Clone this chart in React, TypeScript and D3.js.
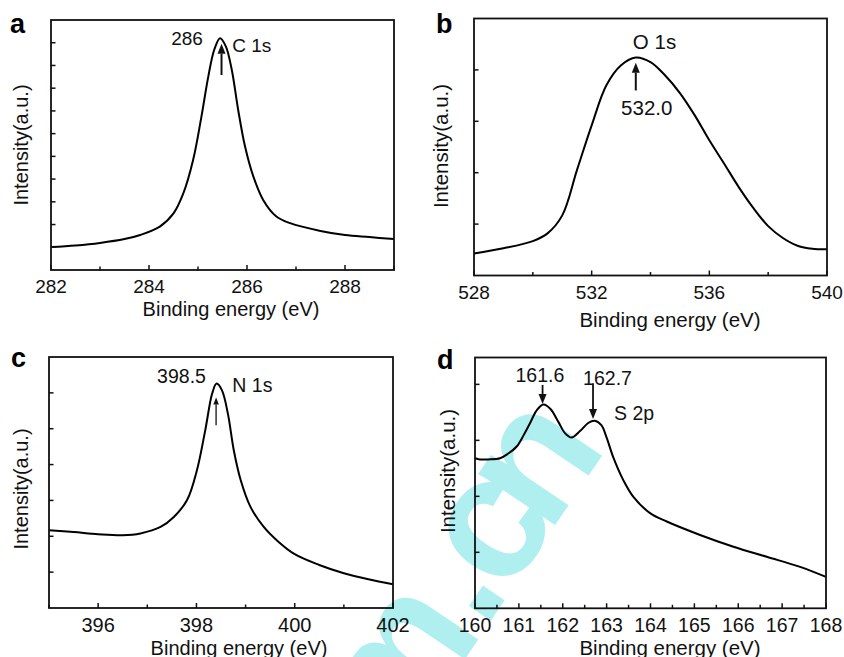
import React from "react";
import * as d3 from "d3";

// XPS spectra (intensity in arbitrary units)
const c1sEnergy = [282, 282.5, 283, 283.5, 283.82, 284.22, 284.5, 284.7, 284.9, 285.07, 285.21, 285.33, 285.45, 285.57, 285.69, 285.82, 285.96, 286.13, 286.33, 286.6, 286.88, 287.5, 288, 288.5, 289];
const c1sIntensity = [1.01, 1.08, 1.19, 1.36, 1.54, 1.91, 2.49, 3.37, 4.84, 6.75, 8.51, 9.68, 10.2, 9.83, 8.8, 7.04, 5.43, 4.11, 3.08, 2.35, 2.06, 1.72, 1.54, 1.45, 1.36];

const o1sEnergy = [528, 529, 530, 530.5, 531, 531.5, 532, 532.5, 533, 533.5, 534, 534.5, 535, 535.5, 536, 536.5, 537, 537.5, 538, 538.5, 539, 539.5, 540];
const o1sIntensity = [0.43, 0.53, 0.67, 0.82, 1.17, 2.05, 2.92, 3.7, 4.09, 4.24, 4.15, 3.89, 3.55, 3.12, 2.63, 2.18, 1.72, 1.31, 0.96, 0.73, 0.58, 0.52, 0.51];

const n1sEnergy = [395, 395.5, 396, 396.5, 396.86, 397.27, 397.54, 397.81, 398.01, 398.18, 398.32, 398.41, 398.52, 398.64, 398.76, 398.9, 399.1, 399.37, 399.65, 400, 400.5, 401, 401.5, 402];
const n1sIntensity = [2.17, 2.12, 2.06, 2.03, 2.08, 2.26, 2.54, 3.01, 3.84, 4.96, 5.98, 6.26, 6.07, 5.42, 4.4, 3.57, 2.82, 2.26, 1.87, 1.5, 1.2, 0.97, 0.8, 0.66];

const s2pEnergy = [160, 160.11, 160.3, 160.57, 160.75, 160.95, 161.1, 161.25, 161.41, 161.56, 161.72, 161.9, 162.05, 162.2, 162.4, 162.58, 162.73, 162.88, 163, 163.15, 163.38, 163.61, 163.99, 164.37, 165.13, 165.89, 166.65, 167.41, 168];
const s2pIntensity = [2.68, 2.66, 2.66, 2.68, 2.76, 2.89, 3.08, 3.3, 3.54, 3.64, 3.56, 3.33, 3.13, 3.05, 3.17, 3.31, 3.35, 3.27, 3.05, 2.7, 2.29, 1.99, 1.7, 1.55, 1.31, 1.1, 0.92, 0.74, 0.56];

// axis ticks
const aXTicks = [282, 283, 284, 285, 286, 287, 288, 289];
const aXLabels = [282, 284, 286, 288];
const aYTicks = [1, 2, 3, 4, 5, 6, 7, 8, 9, 10];
const bXTicks = [528, 530, 532, 534, 536, 538, 540];
const bXLabels = [528, 532, 536, 540];
const bYTicks = [1, 2, 3, 4];
const cXTicks = [395, 396, 397, 398, 399, 400, 401, 402];
const cXLabels = [396, 398, 400, 402];
const cYTicks = [1, 2, 3, 4, 5, 6];
const dXTicks = d3.range(160, 168.01, 0.5);
const dXLabels = [160, 161, 162, 163, 164, 165, 166, 167, 168];
const dYTicks = [1, 2, 3, 4];

type Arrow = { x: number; y0: number; y1: number; w: number };
type Note = { text: string; x: number; y: number; anchor: string };

type PanelCfg = {
  letter: string;
  box: { l: number; t: number; r: number; b: number };
  xDomain: [number, number];
  yDomain: [number, number];
  xTicks: number[];
  xLabels: number[];
  yTicks: number[];
  energy: number[];
  intensity: number[];
  arrows: Arrow[];
  notes: Note[];
  tickFont: number;
  noteFont: number;
  titleFont: number;
  xTitle: { x: number; y: number };
  yTitle: { x: number; y: number };
  letterPos: { x: number; y: number };
  tickBaseline: number;
};

const panels: PanelCfg[] = [
  {
    letter: "a",
    box: { l: 51, t: 20, r: 394, b: 270 },
    xDomain: [282, 289], yDomain: [0, 11],
    xTicks: aXTicks, xLabels: aXLabels, yTicks: aYTicks,
    energy: c1sEnergy, intensity: c1sIntensity,
    arrows: [{ x: 285.48, y0: 8.58, y1: 9.95, w: 2 }],
    notes: [
      { text: "286", x: 285.1, y: 9.92, anchor: "end" },
      { text: "C 1s", x: 285.7, y: 9.59, anchor: "start" },
    ],
    tickFont: 19, noteFont: 19, titleFont: 20,
    xTitle: { x: 231, y: 316 }, yTitle: { x: 28, y: 145 },
    letterPos: { x: 10, y: 33 }, tickBaseline: 292.5,
  },
  {
    letter: "b",
    box: { l: 474, t: 18.5, r: 827, b: 275.5 },
    xDomain: [528, 540], yDomain: [0, 5],
    xTicks: bXTicks, xLabels: bXLabels, yTicks: bYTicks,
    energy: o1sEnergy, intensity: o1sIntensity,
    arrows: [{ x: 533.5, y0: 3.6, y1: 4.14, w: 2 }],
    notes: [
      { text: "O 1s", x: 533.4, y: 4.4, anchor: "start" },
      { text: "532.0", x: 533.0, y: 3.12, anchor: "start" },
    ],
    tickFont: 19, noteFont: 20.5, titleFont: 20.5,
    xTitle: { x: 670, y: 327 }, yTitle: { x: 448, y: 146 },
    letterPos: { x: 436, y: 33 }, tickBaseline: 298.5,
  },
  {
    letter: "c",
    box: { l: 49, t: 357, r: 393, b: 608 },
    xDomain: [395, 402], yDomain: [0, 7],
    xTicks: cXTicks, xLabels: cXLabels, yTicks: cYTicks,
    energy: n1sEnergy, intensity: n1sIntensity,
    arrows: [{ x: 398.4, y0: 5.1, y1: 5.87, w: 1.3 }],
    notes: [
      { text: "398.5", x: 397.2, y: 6.27, anchor: "start" },
      { text: "N 1s", x: 398.73, y: 6.03, anchor: "start" },
    ],
    tickFont: 20, noteFont: 19.5, titleFont: 20,
    xTitle: { x: 239, y: 654.5 }, yTitle: { x: 28, y: 489 },
    letterPos: { x: 11, y: 367 }, tickBaseline: 632,
  },
  {
    letter: "d",
    box: { l: 475, t: 357.5, r: 826, b: 608.3 },
    xDomain: [160, 168], yDomain: [0, 4.48],
    xTicks: dXTicks, xLabels: dXLabels, yTicks: dYTicks,
    energy: s2pEnergy, intensity: s2pIntensity,
    arrows: [
      { x: 161.54, y0: 3.99, y1: 3.65, w: 1.8 },
      { x: 162.69, y0: 4.02, y1: 3.38, w: 1.8 },
    ],
    notes: [
      { text: "161.6", x: 161.48, y: 4.05, anchor: "middle" },
      { text: "162.7", x: 163.02, y: 3.99, anchor: "middle" },
      { text: "S 2p", x: 163.17, y: 3.36, anchor: "start" },
    ],
    tickFont: 19.5, noteFont: 19.5, titleFont: 20.5,
    xTitle: { x: 670, y: 655 }, yTitle: { x: 455, y: 471 },
    letterPos: { x: 437, y: 369 }, tickBaseline: 632,
  },
];

// watermark glyphs, placed along a rotated baseline
const watermark = [
  { ch: "m", x: -217 },
  { ch: ".", x: -115 },
  { ch: "c", x: -50 },
  { ch: "n", x: 29 },
];

const FONT = "'Liberation Sans', Arial, sans-serif";

const Panel = ({ p }: { p: PanelCfg }) => {
  const x = d3.scaleLinear().domain(p.xDomain).range([p.box.l, p.box.r]);
  const y = d3.scaleLinear().domain(p.yDomain).range([p.box.b, p.box.t]);
  const pts = p.energy.map((e, i) => [e, p.intensity[i]] as [number, number]);
  const line = d3
    .line<[number, number]>()
    .x((d) => x(d[0]))
    .y((d) => y(d[1]))
    .curve(d3.curveCatmullRom.alpha(0.5));

  const isLabel = (t: number) => p.xLabels.some((v) => Math.abs(v - t) < 1e-6);

  return (
    <g>
      <text x={p.letterPos.x} y={p.letterPos.y} fontSize={27} fontWeight="bold" fontFamily={FONT}>
        {p.letter}
      </text>
      <path d={line(pts) || ""} fill="none" stroke="#000" strokeWidth={2} />
      <rect
        x={p.box.l}
        y={p.box.t}
        width={p.box.r - p.box.l}
        height={p.box.b - p.box.t}
        fill="none"
        stroke="#111"
        strokeWidth={1.8}
      />
      {p.xTicks.map((t) => (
        <line
          key={"xt" + t}
          x1={x(t)}
          x2={x(t)}
          y1={p.box.b}
          y2={p.box.b - (isLabel(t) ? 5 : 3.5)}
          stroke="#111"
          strokeWidth={1.5}
        />
      ))}
      {p.yTicks.map((t) => (
        <line key={"yt" + t} x1={p.box.l} x2={p.box.l + 4.5} y1={y(t)} y2={y(t)} stroke="#111" strokeWidth={1.5} />
      ))}
      {p.xLabels.map((t) => (
        <text
          key={"xl" + t}
          x={x(t)}
          y={p.tickBaseline}
          textAnchor="middle"
          fontSize={p.tickFont}
          fontFamily={FONT}
          fill="#111"
        >
          {t}
        </text>
      ))}
      <text
        x={p.xTitle.x}
        y={p.xTitle.y}
        textAnchor="middle"
        fontSize={p.titleFont}
        fontFamily={FONT}
        fill="#111"
      >
        Binding energy (eV)
      </text>
      <text
        transform={`translate(${p.yTitle.x},${p.yTitle.y}) rotate(-90)`}
        textAnchor="middle"
        fontSize={p.titleFont}
        fontFamily={FONT}
        fill="#111"
      >
        Intensity(a.u.)
      </text>
      {p.arrows.map((a, i) => {
        const ax = x(a.x);
        const ys = y(a.y0);
        const ye = y(a.y1);
        const dir = ye < ys ? 1 : -1; // 1 = pointing up
        const headLen = a.w > 1.5 ? 10 : 7;
        const headW = a.w > 1.5 ? 4 : 2.8;
        const base = ye + dir * headLen;
        return (
          <g key={"ar" + i}>
            <line x1={ax} x2={ax} y1={ys} y2={base} stroke="#111" strokeWidth={a.w} />
            <path d={`M${ax},${ye} L${ax - headW},${base} L${ax + headW},${base} Z`} fill="#111" />
          </g>
        );
      })}
      {p.notes.map((n, i) => (
        <text
          key={"nt" + i}
          x={x(n.x)}
          y={y(n.y)}
          textAnchor={n.anchor as any}
          fontSize={p.noteFont}
          fontFamily={FONT}
          fill="#111"
        >
          {n.text}
        </text>
      ))}
    </g>
  );
};

export default function App() {
  return (
    <svg
      width={844}
      height={657}
      style={{ position: "absolute", left: 0, top: 0, background: "#fff" }}
    >
      <rect x={0} y={0} width={844} height={657} fill="#fff" />
      <g transform="translate(562,515) rotate(-56)">
        {watermark.map((w) => (
          <text
            key={w.ch}
            x={w.x}
            y={0}
            textAnchor="middle"
            fontSize={175}
            fontWeight="bold"
            fontFamily={FONT}
            fill="#b0eff0"
          >
            {w.ch}
          </text>
        ))}
      </g>
      {panels.map((p) => (
        <Panel key={p.letter} p={p} />
      ))}
    </svg>
  );
}
